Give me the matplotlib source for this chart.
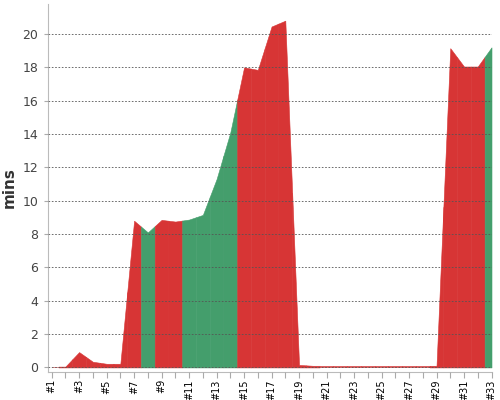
#!/usr/bin/env python3

import numpy as np
import matplotlib
matplotlib.use("Agg")
import matplotlib.pyplot as plt

# run labels shown along x
labels = ['#1', '#2', '#3', '#4', '#5', '#6', '#7', '#8', '#9', '#10', '#11',
          '#12', '#13', '#14', '#15', '#16', '#17', '#18', '#19', '#20', '#21',
          '#22', '#23', '#24', '#25', '#26', '#27', '#28', '#29', '#30', '#31',
          '#32', '#33']

# duration in minutes
mins = [0.05, 0.05, 0.92, 0.34, 0.22, 0.22, 8.8, 8.1, 8.85, 8.75, 8.87,
        9.15, 11.3, 14.1, 18.0, 17.85, 20.45, 20.8, 0.15, 0.1, 0.1,
        0.1, 0.1, 0.1, 0.1, 0.1, 0.1, 0.1, 0.1, 19.15, 18.05,
        18.05, 19.2]

# result of each run
status = ['fail', 'fail', 'fail', 'fail', 'fail', 'fail', 'fail', 'pass', 'fail', 'fail', 'pass',
          'pass', 'pass', 'pass', 'fail', 'fail', 'fail', 'fail', 'fail', 'fail', 'fail',
          'fail', 'fail', 'fail', 'fail', 'fail', 'fail', 'fail', 'fail', 'fail', 'fail',
          'fail', 'pass']

colors = {'fail': '#d73535', 'pass': '#449e6c'}

x = np.arange(1, len(mins) + 1)
y = np.array(mins)

fig = plt.figure(figsize=(5, 4), dpi=100)
ax = fig.add_axes([0.095, 0.071, 0.888, 0.919])

# each run colours the area half way to its neighbours
for i, (xi, st) in enumerate(zip(x, status)):
    a = max(xi - 0.5, x[0])
    b = min(xi + 0.5, x[-1])
    xs = np.array([a, xi, b])
    ys = np.interp(xs, x, y)
    ax.fill_between(xs, ys, 0, color=colors[st], linewidth=0.4,
                    edgecolor=colors[st], zorder=1)

ax.set_xlim(0.7, 33.0)
ax.set_ylim(-0.25, 21.8)

ax.set_yticks(np.arange(0, 21, 2))
ax.yaxis.grid(True, linestyle=(0, (2, 2)), color='#555555', linewidth=0.6, zorder=3)
ax.set_axisbelow(False)

ax.set_xticks(x)
ax.set_xticklabels([l if i % 2 == 0 else '' for i, l in enumerate(labels)],
                   rotation=90, fontsize=7, color='black')

ax.tick_params(axis='y', labelsize=9, labelcolor='#444444', color='#aaaaaa', length=3)
ax.tick_params(axis='x', color='#aaaaaa', length=4, pad=1.5)

for side in ['top', 'right']:
    ax.spines[side].set_visible(False)
for side in ['left', 'bottom']:
    ax.spines[side].set_color('#bbbbbb')

ax.set_ylabel('mins', fontsize=11, fontweight='bold', color='#333333', labelpad=4)

plt.savefig('out.png', dpi=100)
